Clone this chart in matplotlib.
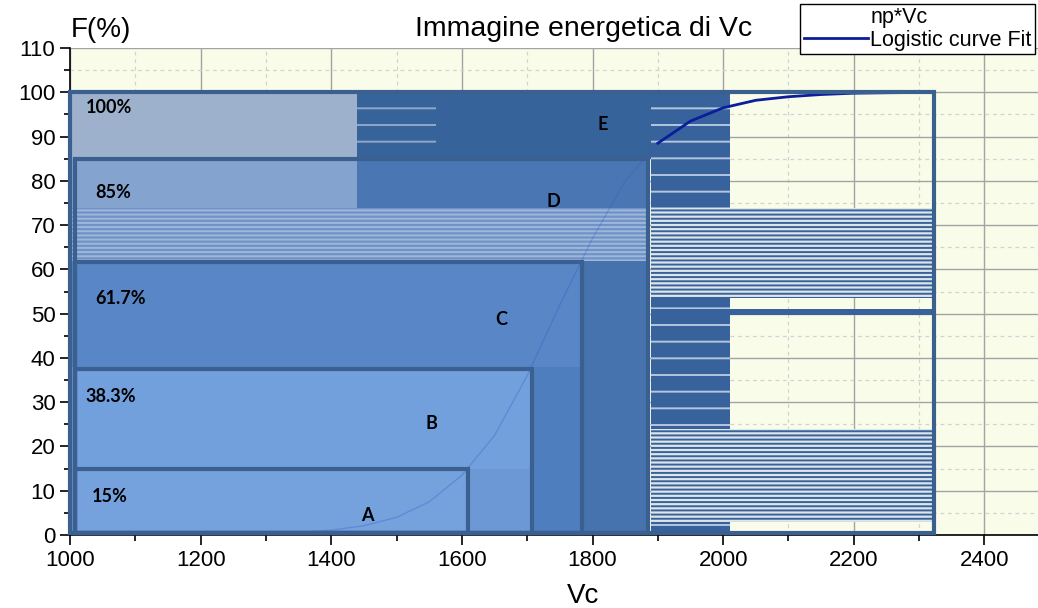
import numpy as np
import matplotlib.pyplot as plt
from matplotlib.patches import Rectangle
from matplotlib.ticker import MultipleLocator

plt.rcParams['font.family'] = ['Liberation Sans', 'DejaVu Sans']
plt.rcParams['hatch.linewidth'] = 1.4

# nested boxes A..E (right edge and top)
box_names = ['A', 'B', 'C', 'D', 'E']
box_left = [1008, 1008, 1008, 1008, 1000]
box_right = [1610, 1707, 1784, 1885, 2323]
box_top = [15, 37.5, 61.7, 85, 100]
pct_labels = ['15%', '38.3%', '61.7%', '85%', '100%']
pct_x = [1034, 1024, 1038, 1038, 1024]
pct_y = [8.6, 31.2, 53.5, 77.3, 96.5]
letter_x = [1455, 1554, 1661, 1740, 1815]
letter_y = [4.5, 25.3, 48.6, 75.4, 92.8]

# shaded areas made by the np*Vc points (x0, x1, y0, y1, colour)
shade_x0 = [1000, 1440, 1000, 1440, 1000, 1784, 1000, 1707, 1000, 1610, 1000, 1890]
shade_x1 = [1440, 1890, 1440, 1885, 1885, 1885, 1784, 1784, 1707, 1707, 1610, 2010]
shade_y0 = [85, 85, 73.8, 73.8, 62, 0, 38, 0, 15, 0, 0, 0]
shade_y1 = [100, 100, 85, 85, 73.8, 62, 62, 38, 38, 15, 15, 100]
shade_col = ['#9db1cc', '#37639b', '#85a3cf', '#4a77b3', '#6f93c7', '#4672ad',
             '#5886c6', '#4f7ebf', '#72a0dc', '#6c98d6', '#75a1dd', '#37629b']

# striped bands of np*Vc points
band_x0 = [1000, 1890, 1890, 1890]
band_x1 = [1885, 2323, 2323, 2323]
band_y0 = [62, 53.5, 3, 49.6]
band_y1 = [73.8, 73.8, 24, 51]

# logistic curve fit
curve_x = np.array([1350, 1400, 1450, 1500, 1550, 1600, 1650, 1700, 1750, 1800,
                    1850, 1900, 1950, 2000, 2050, 2100, 2150, 2200, 2250, 2320])
curve_y = np.array([0.6, 1.1, 2.1, 4.0, 7.5, 13.5, 22.5, 36, 52, 67,
                    80, 88.5, 93.5, 96.5, 98.2, 99.0, 99.5, 99.8, 99.9, 100])

fig = plt.figure(figsize=(10.38, 6.08), dpi=100)
ax = fig.add_axes([0.0674, 0.12, 0.9326, 0.801])
ax.set_facecolor('#f9fce9')
ax.set_xlim(1000, 2482)
ax.set_ylim(0, 110)

for x0, x1, y0, y1, c in zip(shade_x0, shade_x1, shade_y0, shade_y1, shade_col):
    ax.add_patch(Rectangle((x0, y0), x1 - x0, y1 - y0, facecolor=c, lw=0, zorder=1))

# dotted rows in the dark areas
ax.add_patch(Rectangle((1890, 0), 120, 100, facecolor='none', edgecolor='#b4c6de',
                       hatch='-', lw=0, zorder=1.5))
ax.add_patch(Rectangle((1440, 85), 120, 15, facecolor='none', edgecolor='#8fa7c8',
                       hatch='-', lw=0, zorder=1.5))

for i, (x0, x1, y0, y1) in enumerate(zip(band_x0, band_x1, band_y0, band_y1)):
    if i == 0:
        ax.add_patch(Rectangle((x0, y0), x1 - x0, y1 - y0, facecolor='#6f93c7',
                               edgecolor='#9fb8da', hatch='----', lw=0, zorder=2))
    elif i == 3:
        ax.add_patch(Rectangle((x0, y0), x1 - x0, y1 - y0, facecolor='#37629b',
                               lw=0, zorder=2))
    else:
        ax.add_patch(Rectangle((x0, y0), x1 - x0, y1 - y0, facecolor='#dde5e8',
                               edgecolor='#37629b', hatch='----', lw=0, zorder=2))

# curve: faint where it sits under the shaded boxes
m = curve_x <= 1900
ax.plot(curve_x[m], curve_y[m], color='#3457c8', lw=1, alpha=0.3, zorder=3)
ax.plot(curve_x[curve_x >= 1900], curve_y[curve_x >= 1900],
        color='#0a1e9c', lw=2, zorder=3, label='Logistic curve Fit')
ax.scatter([], [], s=0, color='#37629b', label='np*Vc')

for xl, xr, yt in zip(box_left, box_right, box_top):
    ax.add_patch(Rectangle((xl, 0.4), xr - xl, yt - 0.4, fill=False,
                           edgecolor='#3b5f8f', lw=3, zorder=4, clip_on=False))

for t, x, y in zip(pct_labels, pct_x, pct_y):
    ax.text(x, y, t, fontsize=13, fontweight='bold', family='Lato', va='center',
            ha='left', zorder=5)
for t, x, y in zip(box_names, letter_x, letter_y):
    ax.text(x, y, t, fontsize=13, fontweight='bold', family='Lato', va='center',
            ha='center', zorder=5)

ax.xaxis.set_major_locator(MultipleLocator(200))
ax.xaxis.set_minor_locator(MultipleLocator(100))
ax.yaxis.set_major_locator(MultipleLocator(10))
ax.yaxis.set_minor_locator(MultipleLocator(5))
ax.set_xticks(np.arange(1000, 2401, 200))
ax.grid(True, which='major', color='#a3a3a3', lw=1)
ax.grid(True, which='minor', color='#d2d2d2', lw=0.9, ls=(0, (3, 3)))
ax.set_axisbelow(True)
ax.tick_params(which='major', direction='out', length=7, width=1.2, labelsize=16)
ax.tick_params(which='minor', direction='out', length=4, width=1.2)
for s in ['top', 'right']:
    ax.spines[s].set_visible(False)
for s in ['left', 'bottom']:
    ax.spines[s].set_linewidth(1.2)

fig.text(0.562, 0.02, 'Vc', fontsize=20, ha='center', va='center')
fig.text(0.068, 0.93, 'F(%)', fontsize=20, ha='left', va='bottom')
fig.text(0.562, 0.952, 'Immagine energetica di Vc', fontsize=20.5, ha='center', va='center')

h, l = ax.get_legend_handles_labels()
leg = fig.legend(h[::-1], l[::-1], loc='upper right', bbox_to_anchor=(0.997, 0.993),
                 fontsize=15.5, frameon=True, fancybox=False, edgecolor='black',
                 framealpha=1, handlelength=3.0, handletextpad=0.1, borderpad=0.15,
                 labelspacing=0.05, borderaxespad=0)
leg.get_frame().set_linewidth(1)

fig.savefig('out.png', dpi=100)
